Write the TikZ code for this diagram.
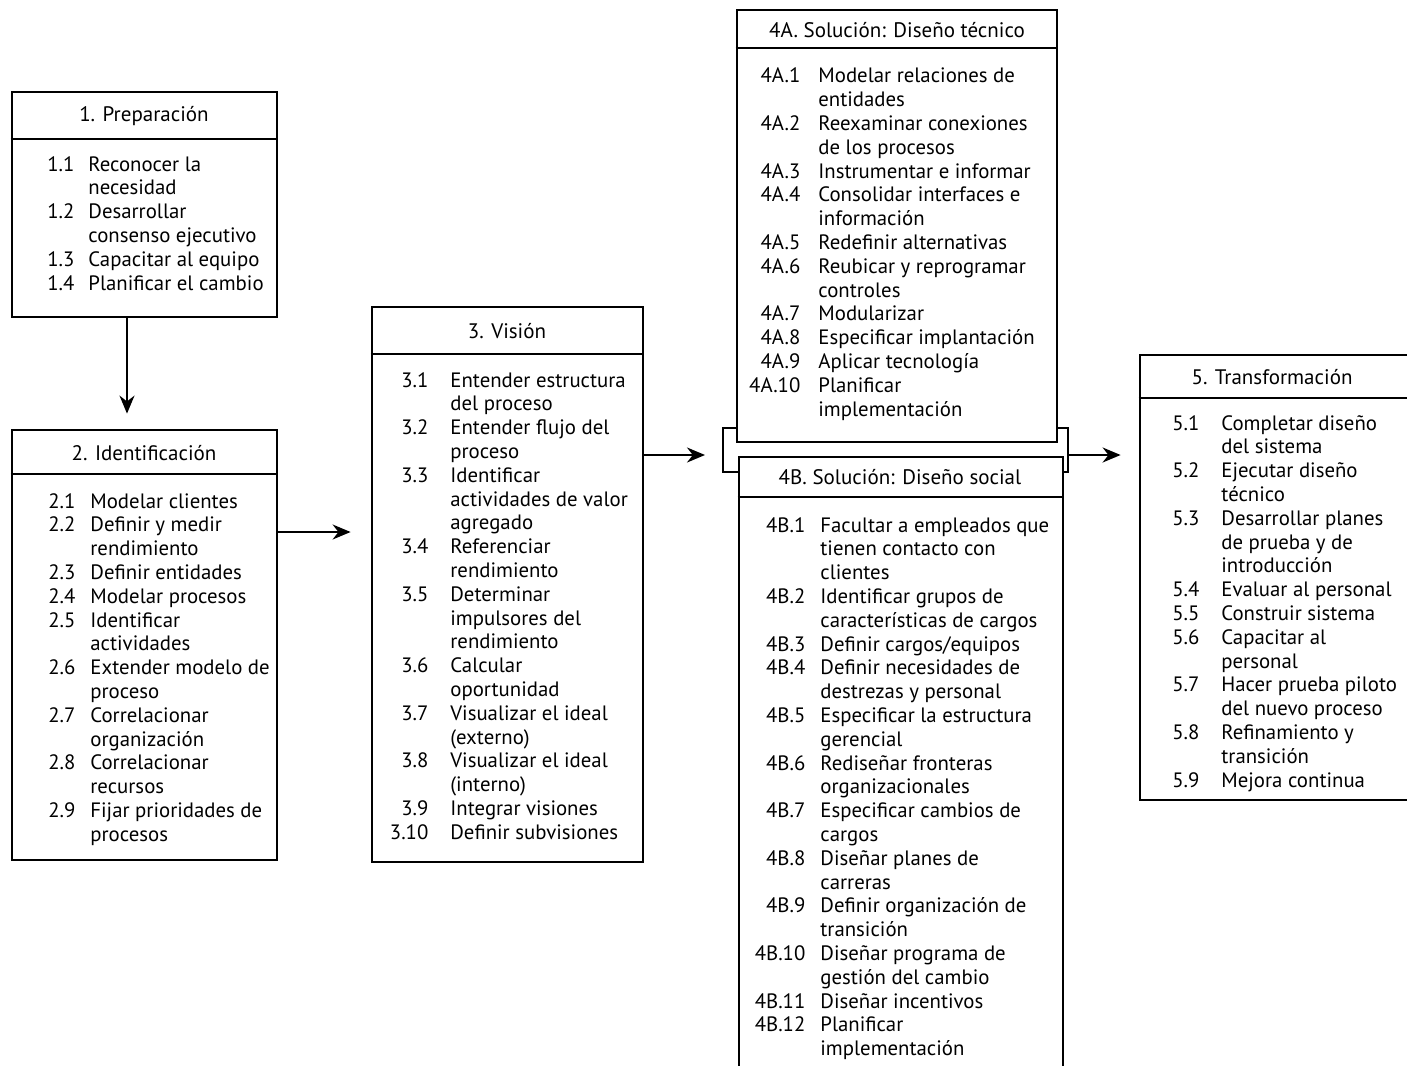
\documentclass[tikz,border=0pt]{standalone}
\usepackage{fontspec}
\setmainfont{PT Sans}
\usetikzlibrary{arrows.meta,fit}
\newlength\ig
\newcommand\nm[1]{\llap{#1\hspace{\ig}}}
\tikzset{
  box/.style={draw, line width=1.4pt, inner sep=0pt},
  sepline/.style={line width=1.4pt},
  hdr/.style={font=\fontsize{10.5}{12}\selectfont, inner sep=0pt},
  items/.style={font=\fontsize{10.4}{11.9}\selectfont, inner sep=0pt, anchor=base west},
  arr/.style={line width=1.1pt, -{Stealth[length=9pt,width=7.5pt]}},
}
\begin{document}
\begin{tikzpicture}[x=0.5pt,y=-0.5pt]
\useasboundingbox[fill=white] (0,0) rectangle (1407,1065);
\clip (0,0) rectangle (1407,1065);

% ---------- Box 1
\node[box, fit={(12,92)(277,317)}] (b1) {};
\draw[sepline] (b1.west |- 0,139) -- (b1.east |- 0,139);
\node[hdr] (h1) at (144,116) {1. Preparación};
\node[items] (i1) at (88,171) {\setlength\ig{7pt}\begin{tabular}[t]{@{}l@{}}
\nm{1.1}Reconocer la\\
necesidad\\
\nm{1.2}Desarrollar\\
consenso ejecutivo\\
\nm{1.3}Capacitar al equipo\\
\nm{1.4}Planificar el cambio
\end{tabular}};

% ---------- Box 2
\node[box, fit={(12,430)(277,860)}] (b2) {};
\draw[sepline] (b2.west |- 0,474) -- (b2.east |- 0,474);
\node[hdr] (h2) at (144,453) {2. Identificación};
\node[items] (i2) at (90,508) {\setlength\ig{7.5pt}\begin{tabular}[t]{@{}l@{}}
\nm{2.1}Modelar clientes\\
\nm{2.2}Definir y medir\\
rendimiento\\
\nm{2.3}Definir entidades\\
\nm{2.4}Modelar procesos\\
\nm{2.5}Identificar\\
actividades\\
\nm{2.6}Extender modelo de\\
proceso\\
\nm{2.7}Correlacionar\\
organización\\
\nm{2.8}Correlacionar\\
recursos\\
\nm{2.9}Fijar prioridades de\\
procesos
\end{tabular}};

% ---------- Box 3
\node[box, fit={(372,307)(643,862)}] (b3) {};
\draw[sepline] (b3.west |- 0,354) -- (b3.east |- 0,354);
\node[hdr] (h3) at (507,331) {3. Visión};
\node[items] (i3) at (450,387) {\setlength\ig{11pt}\begin{tabular}[t]{@{}l@{}}
\nm{3.1}Entender estructura\\
del proceso\\
\nm{3.2}Entender flujo del\\
proceso\\
\nm{3.3}Identificar\\
actividades de valor\\
agregado\\
\nm{3.4}Referenciar\\
rendimiento\\
\nm{3.5}Determinar\\
impulsores del\\
rendimiento\\
\nm{3.6}Calcular\\
oportunidad\\
\nm{3.7}Visualizar el ideal\\
(externo)\\
\nm{3.8}Visualizar el ideal\\
(interno)\\
\nm{3.9}Integrar visiones\\
\nm{3.10}Definir subvisiones
\end{tabular}};

% ---------- Box 4A
\node[box, fit={(737,10)(1057,442)}] (b4a) {};
\draw[sepline] (b4a.west |- 0,48) -- (b4a.east |- 0,48);
\node[hdr] (h4a) at (897,30) {4A. Solución: Diseño técnico};
\node[items] (i4a) at (818,83) {\setlength\ig{9pt}\begin{tabular}[t]{@{}l@{}}
\nm{4A.1}Modelar relaciones de\\
entidades\\
\nm{4A.2}Reexaminar conexiones\\
de los procesos\\
\nm{4A.3}Instrumentar e informar\\
\nm{4A.4}Consolidar interfaces e\\
información\\
\nm{4A.5}Redefinir alternativas\\
\nm{4A.6}Reubicar y reprogramar\\
controles\\
\nm{4A.7}Modularizar\\
\nm{4A.8}Especificar implantación\\
\nm{4A.9}Aplicar tecnología\\
\nm{4A.10}Planificar\\
implementación
\end{tabular}};

% ---------- Box 4B (continues below the page)
\node[box, fit={(739,457)(1063,1090)}] (b4b) {};
\draw[sepline] (b4b.west |- 0,497) -- (b4b.east |- 0,497);
\node[hdr] (h4b) at (900,477) {4B. Solución: Diseño social};
\node[items] (i4b) at (820,532) {\setlength\ig{7.5pt}\begin{tabular}[t]{@{}l@{}}
\nm{4B.1}Facultar a empleados que\\
tienen contacto con\\
clientes\\
\nm{4B.2}Identificar grupos de\\
características de cargos\\
\nm{4B.3}Definir cargos/equipos\\
\nm{4B.4}Definir necesidades de\\
destrezas y personal\\
\nm{4B.5}Especificar la estructura\\
gerencial\\
\nm{4B.6}Rediseñar fronteras\\
organizacionales\\
\nm{4B.7}Especificar cambios de\\
cargos\\
\nm{4B.8}Diseñar planes de\\
carreras\\
\nm{4B.9}Definir organización de\\
transición\\
\nm{4B.10}Diseñar programa de\\
gestión del cambio\\
\nm{4B.11}Diseñar incentivos\\
\nm{4B.12}Planificar\\
implementación
\end{tabular}};

% ---------- Box 5 (continues past the right edge)
\node[box, fit={(1140,355)(1430,800)}] (b5) {};
\draw[sepline] (b5.west |- 0,398) -- (b5.east |- 0,398);
\node[hdr] (h5) at (1272,377) {5. Transformación};
\node[items] (i5) at (1221,430) {\setlength\ig{11pt}\begin{tabular}[t]{@{}l@{}}
\nm{5.1}Completar diseño\\
del sistema\\
\nm{5.2}Ejecutar diseño\\
técnico\\
\nm{5.3}Desarrollar planes\\
de prueba y de\\
introducción\\
\nm{5.4}Evaluar al personal\\
\nm{5.5}Construir sistema\\
\nm{5.6}Capacitar al\\
personal\\
\nm{5.7}Hacer prueba piloto\\
del nuevo proceso\\
\nm{5.8}Refinamiento y\\
transición\\
\nm{5.9}Mejora continua
\end{tabular}};

% ---------- brackets joining 4A and 4B
\coordinate (brL) at (723,455);
\coordinate (brR) at (1068,455);
\draw[sepline] (b4a.west |- 0,428) -- (brL |- 0,428) -- (brL |- 0,472) -- (b4b.west |- 0,472);
\draw[sepline] (b4a.east |- 0,428) -- (brR |- 0,428) -- (brR |- 0,472) -- (b4b.east |- 0,472);

% ---------- connectors
\draw[arr, shorten >=7.5pt] (b1.south -| 127,0) -- (b2.north -| 127,0);
\draw[arr, shorten >=10pt] (b2.east |- 0,532) -- (b3.west |- 0,532);
\draw[arr, shorten >=9pt] (b3.east |- brL) -- (brL);
\draw[arr, shorten >=9pt] (brR) -- (b5.west |- brR);
\end{tikzpicture}
\end{document}
